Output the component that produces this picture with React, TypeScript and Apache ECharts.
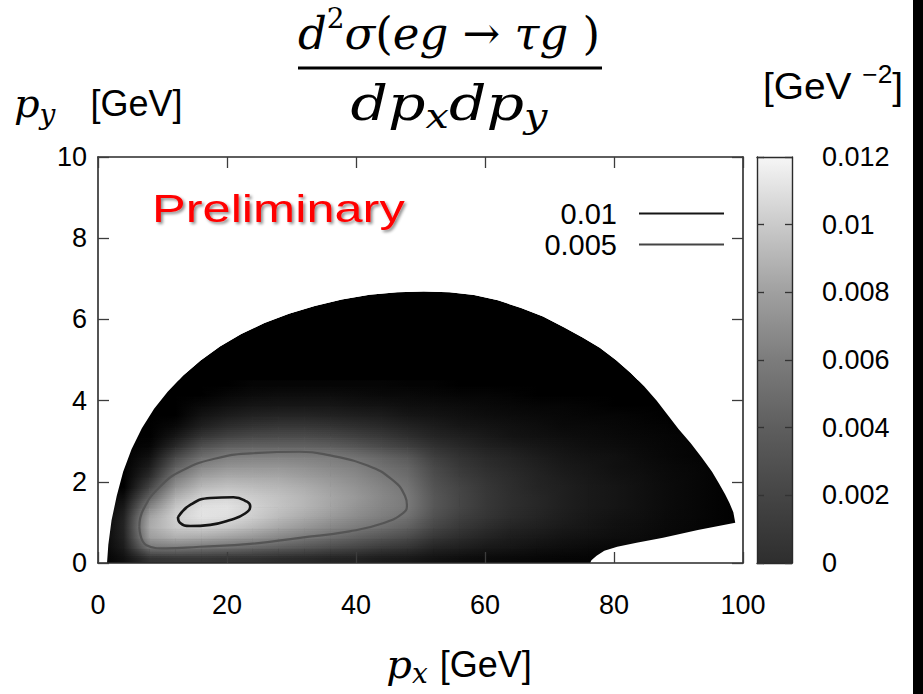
import React, { useEffect, useRef } from "react";
import * as echarts from "echarts";

// ---------- data ----------
// p_x sample nodes [GeV]
const pxNodes = [0, 4, 8, 12, 16, 20, 24, 28, 32, 36, 40, 44, 48, 52, 56, 60, 64, 68, 72, 76, 80, 84, 88, 92, 96, 100];
// p_y level of each sampled row [GeV]
const pyRowLevels = [0.125, 0.375, 0.625, 0.875, 1.125, 1.375, 1.625, 1.875, 2.125, 2.375, 2.625, 2.875, 3.125, 3.375, 3.625, 3.875, 4.125, 4.375];
const pyRowsTop = 4.5;
// d²σ/dpx dpy in units of 1e-3 GeV^-2: one row per p_y level, one value per p_x node
const densityRows: number[][] = [
  [0, 0.4, 1.7, 1.8, 1.8, 1.7, 1.6, 1.4, 1.3, 1.1, 1.0, 0.8, 0.7, 0.45, 0.35, 0.25, 0.2, 0.15, 0.1, 0.08, 0.08, 0.04, 0.03, 0, 0, 0],
  [0, 0.8, 4.8, 5.0, 4.7, 4.4, 4.0, 3.6, 3.2, 2.8, 2.4, 2.0, 1.7, 1.1, 0.9, 0.65, 0.55, 0.4, 0.3, 0.23, 0.16, 0.16, 0.07, 0.07, 0, 0],
  [0, 1.0, 6.8, 7.8, 7.6, 7.0, 6.4, 5.6, 4.9, 4.3, 3.7, 3.2, 2.7, 1.8, 1.4, 1.05, 0.8, 0.65, 0.5, 0.4, 0.3, 0.24, 0.14, 0.08, 0.03, 0],
  [0, 1.1, 7.6, 9.4, 9.8, 9.3, 8.4, 7.4, 6.5, 5.7, 5.0, 4.4, 3.7, 2.5, 1.9, 1.45, 1.1, 0.9, 0.7, 0.55, 0.4, 0.32, 0.2, 0.11, 0.05, 0],
  [0, 1.0, 7.2, 9.8, 10.9, 10.6, 9.6, 8.5, 7.6, 6.7, 5.9, 5.2, 4.5, 3.0, 2.25, 1.75, 1.35, 1.1, 0.85, 0.62, 0.47, 0.36, 0.21, 0.15, 0.05, 0],
  [0, 0.7, 5.6, 9.2, 10.8, 10.9, 9.9, 9.0, 8.2, 7.3, 6.4, 5.6, 4.95, 3.3, 2.5, 1.9, 1.5, 1.2, 0.9, 0.7, 0.55, 0.4, 0.25, 0.15, 0.05, 0],
  [0, 0.3, 3.8, 7.9, 9.8, 10.0, 9.5, 8.9, 8.2, 7.4, 6.6, 5.7, 4.95, 3.3, 2.5, 1.9, 1.5, 1.2, 0.9, 0.7, 0.55, 0.4, 0.25, 0.15, 0.05, 0],
  [0, 0, 2.4, 6.3, 8.4, 8.9, 8.6, 8.3, 7.7, 7.0, 6.3, 5.5, 4.7, 3.1, 2.4, 1.85, 1.45, 1.1, 0.9, 0.7, 0.55, 0.4, 0.25, 0.15, 0.05, 0],
  [0, 0, 1.4, 4.9, 7.0, 7.6, 7.5, 7.4, 6.9, 6.4, 5.8, 5.0, 4.3, 2.85, 2.15, 1.7, 1.35, 1.05, 0.8, 0.62, 0.47, 0.36, 0.21, 0.15, 0.05, 0],
  [0, 0, 0.8, 3.6, 5.6, 6.3, 6.4, 6.4, 6.1, 5.7, 5.3, 4.5, 3.9, 2.6, 1.9, 1.5, 1.2, 0.95, 0.7, 0.55, 0.4, 0.32, 0.2, 0.11, 0.05, 0],
  [0, 0, 0.4, 2.5, 4.3, 5.1, 5.3, 5.3, 5.2, 5.0, 4.5, 3.9, 3.3, 2.15, 1.65, 1.3, 1.05, 0.8, 0.6, 0.47, 0.39, 0.24, 0.14, 0.07, 0.03, 0],
  [0, 0, 0.1, 1.3, 2.9, 3.6, 3.8, 3.8, 3.8, 3.6, 3.2, 2.7, 2.2, 1.6, 1.25, 0.95, 0.75, 0.6, 0.45, 0.35, 0.28, 0.2, 0.12, 0.06, 0.02, 0],
  [0, 0, 0, 0.6, 1.7, 2.3, 2.6, 2.7, 2.7, 2.5, 2.2, 1.9, 1.5, 1.1, 0.9, 0.7, 0.5, 0.4, 0.3, 0.25, 0.2, 0.15, 0.1, 0.05, 0, 0],
  [0, 0, 0, 0.2, 0.9, 1.4, 1.7, 1.8, 1.8, 1.7, 1.5, 1.3, 1.0, 0.8, 0.6, 0.5, 0.4, 0.3, 0.2, 0.2, 0.15, 0.1, 0.05, 0, 0, 0],
  [0, 0, 0, 0, 0.5, 0.8, 1.0, 1.1, 1.1, 1.0, 0.9, 0.8, 0.6, 0.5, 0.4, 0.3, 0.25, 0.2, 0.15, 0.1, 0.1, 0.05, 0, 0, 0, 0],
  [0, 0, 0, 0, 0.2, 0.4, 0.55, 0.6, 0.6, 0.6, 0.5, 0.45, 0.35, 0.3, 0.25, 0.2, 0.15, 0.1, 0.1, 0.05, 0, 0, 0, 0, 0, 0],
  [0, 0, 0, 0, 0, 0.15, 0.25, 0.3, 0.3, 0.3, 0.25, 0.2, 0.2, 0.15, 0.1, 0.1, 0.05, 0, 0, 0, 0, 0, 0, 0, 0, 0],
  [0, 0, 0, 0, 0, 0, 0.1, 0.1, 0.1, 0.1, 0.1, 0.1, 0.05, 0.05, 0, 0, 0, 0, 0, 0, 0, 0, 0, 0, 0, 0],
];

// kinematic boundary: outer arc from bottom-left to the right end, then the lower-right notch
const boundaryArc: number[][] = [
  [1.4, 0], [1.6, 0.45], [2.1, 1.05], [2.9, 1.65], [3.9, 2.25], [5.2, 2.8], [6.8, 3.32], [8.7, 3.8],
  [10.8, 4.22], [13.2, 4.62], [15.9, 4.99], [18.9, 5.33], [22.2, 5.64], [25.8, 5.91], [29.6, 6.14], [33.6, 6.33],
  [37.8, 6.49], [42.1, 6.61], [46.4, 6.67], [50.5, 6.69], [54.5, 6.67], [58.3, 6.6], [62, 6.47], [65.6, 6.28],
  [69, 6.07], [72.3, 5.8], [75.2, 5.55], [77.8, 5.3], [80.3, 5.0], [82.6, 4.68], [84.7, 4.35], [86.6, 4.0],
  [88.3, 3.65], [90.0, 3.3], [91.9, 2.95], [93.6, 2.6], [95.2, 2.25], [96.3, 1.95], [97.2, 1.7], [97.9, 1.48],
  [98.5, 1.25], [98.8, 0.99],
];
const boundaryNotch: number[][] = [
  [93, 0.81], [87.6, 0.62], [83.5, 0.5], [80.5, 0.4], [78.5, 0.3], [77.3, 0.18], [76.5, 0.07], [76.3, 0],
];

// contour lines
const contour0010: number[][] = [
  [12.4, 1.13], [12.7, 0.99], [14.3, 0.91], [17.4, 0.94], [20.5, 1.06], [22.8, 1.22], [23.6, 1.4],
  [23.1, 1.51], [21.0, 1.62], [17.4, 1.6], [14.3, 1.43], [12.4, 1.13],
];
const contour0005: number[][] = [
  [6.4, 0.89], [7.0, 1.31], [9.6, 1.88], [13.2, 2.29], [18.4, 2.58], [23.6, 2.7], [31.3, 2.74], [36, 2.65],
  [41.7, 2.41], [45.7, 2.04], [47.6, 1.65], [47.9, 1.42], [47.3, 1.23], [44.2, 0.98], [39, 0.78], [31.3, 0.62],
  [23.6, 0.47], [15.8, 0.4], [10.6, 0.36], [7.5, 0.44], [6.4, 0.89],
];
const contourNames = ["0.01", "0.005"];

// axes
const pxTicks = [0, 20, 40, 60, 80, 100];
const pyTicks = [0, 2, 4, 6, 8, 10];
const colorTicks = [0, 0.002, 0.004, 0.006, 0.008, 0.01, 0.012];
const densityMaxMilli = 12;

// ---------- styling helpers ----------
const grayOf = (v: number) => {
  const g = Math.round(245 * Math.pow(Math.max(0, v) / densityMaxMilli, 0.8));
  return `rgb(${g},${g},${g})`;
};
const colorbarStops = [
  { offset: 0, color: "#2e2e2e" },
  { offset: 0.167, color: "#454545" },
  { offset: 0.333, color: "#5e5e5e" },
  { offset: 0.5, color: "#7c7c7c" },
  { offset: 0.667, color: "#a0a0a0" },
  { offset: 0.833, color: "#cacaca" },
  { offset: 1, color: "#f6f6f6" },
];
const BLEND_STEPS = 5;

const SANS = "Liberation Sans";
const SERIF = "DejaVu Serif";
const FRAME = "#2a2a2a";
const TICK = "#3c3c3c";

function buildOption() {
  // strips between consecutive sampled rows (plus half strips at the bottom and top)
  const stripData: number[][] = [];
  const nRows = densityRows.length;
  for (let s = 0; s <= nRows; s++) {
    const lo = Math.max(0, s - 1);
    const hi = Math.min(nRows - 1, s);
    const yLo = s === 0 ? 0 : pyRowLevels[s - 1];
    const yHi = s === nRows ? pyRowsTop : pyRowLevels[s];
    for (let i = 0; i < pxNodes.length - 1; i++) {
      stripData.push([
        pxNodes[i], pxNodes[i + 1], yLo, yHi,
        densityRows[lo][i], densityRows[lo][i + 1], densityRows[hi][i], densityRows[hi][i + 1],
      ]);
    }
  }
  const xMin = pxTicks[0], xMax = pxTicks[pxTicks.length - 1];
  const yMin = pyTicks[0], yMax = pyTicks[pyTicks.length - 1];
  const domainPoly = [...boundaryArc, ...boundaryNotch];
  const maskPoly = [[xMin, yMin], ...boundaryArc, ...boundaryNotch, [xMax, yMin], [xMax, yMax], [xMin, yMax]];

  const mainAxisCommon = {
    type: "value" as const,
    z: 10,
    splitLine: { show: false },
    axisLine: { show: true, onZero: false, lineStyle: { color: FRAME, width: 1.6 } },
    axisTick: { show: true, inside: true, length: 11, lineStyle: { color: TICK, width: 1.3 } },
  };
  const labelStyle = { fontSize: 27, color: "#000", fontFamily: SANS };

  const polySeries = (pts: number[][], fill: string, z: number) => ({
    type: "custom" as const,
    xAxisIndex: 0,
    yAxisIndex: 0,
    z,
    silent: true,
    clip: false,
    data: [[pts[0][0], pts[0][1]]],
    renderItem: (_p: any, api: any) => ({
      type: "polygon",
      shape: { points: pts.map((p) => api.coord(p)) },
      style: { fill },
    }),
  });

  const hGrad = (a: number, b: number) =>
    new echarts.graphic.LinearGradient(0, 0, 1, 0, [
      { offset: 0, color: grayOf(a) },
      { offset: 1, color: grayOf(b) },
    ]);

  return {
    animation: false,
    backgroundColor: "#fff",
    textStyle: { fontFamily: SANS },
    grid: [
      { left: 98, top: 157, width: 645, height: 406, containLabel: false, outerBoundsMode: "none" },
      { left: 757, top: 157, width: 35, height: 406, containLabel: false, outerBoundsMode: "none" },
    ],
    xAxis: [
      {
        ...mainAxisCommon, gridIndex: 0, position: "bottom", min: xMin, max: xMax, interval: pxTicks[1] - pxTicks[0],
        axisLabel: { ...labelStyle, margin: 28 },
      },
      {
        ...mainAxisCommon, gridIndex: 0, position: "top", min: xMin, max: xMax, interval: pxTicks[1] - pxTicks[0],
        axisLabel: { show: false },
      },
      {
        type: "value", gridIndex: 1, position: "bottom", min: 0, max: 1, z: 10,
        splitLine: { show: false }, axisTick: { show: false }, axisLabel: { show: false },
        axisLine: { show: true, onZero: false, lineStyle: { color: FRAME, width: 1.4 } },
      },
      {
        type: "value", gridIndex: 1, position: "top", min: 0, max: 1, z: 10,
        splitLine: { show: false }, axisTick: { show: false }, axisLabel: { show: false },
        axisLine: { show: true, onZero: false, lineStyle: { color: FRAME, width: 1.4 } },
      },
    ],
    yAxis: [
      {
        ...mainAxisCommon, gridIndex: 0, position: "left", min: yMin, max: yMax, interval: pyTicks[1] - pyTicks[0],
        axisLabel: { ...labelStyle, margin: 11 },
      },
      {
        ...mainAxisCommon, gridIndex: 0, position: "right", min: yMin, max: yMax, interval: pyTicks[1] - pyTicks[0],
        axisLabel: { show: false },
      },
      {
        type: "value", gridIndex: 1, position: "left", z: 10,
        min: colorTicks[0], max: colorTicks[colorTicks.length - 1], interval: colorTicks[1] - colorTicks[0],
        splitLine: { show: false }, axisLabel: { show: false },
        axisLine: { show: true, onZero: false, lineStyle: { color: FRAME, width: 1.4 } },
        axisTick: { show: true, inside: true, length: 7, lineStyle: { color: "#333", width: 1.3 } },
      },
      {
        type: "value", gridIndex: 1, position: "right", z: 10,
        min: colorTicks[0], max: colorTicks[colorTicks.length - 1], interval: colorTicks[1] - colorTicks[0],
        splitLine: { show: false },
        axisLabel: { ...labelStyle, margin: 30 },
        axisLine: { show: true, onZero: false, lineStyle: { color: FRAME, width: 1.4 } },
        axisTick: { show: true, inside: true, length: 7, lineStyle: { color: "#333", width: 1.3 } },
      },
    ],
    legend: {
      data: contourNames,
      orient: "vertical",
      align: "right",
      right: 199,
      top: 199,
      padding: 0,
      icon: "rect",
      itemWidth: 85,
      itemHeight: 2,
      itemGap: 2,
      selectedMode: false,
      textStyle: { fontSize: 29, lineHeight: 29, color: "#000", fontFamily: SANS, padding: [0, 17, 0, 0] },
    },
    series: [
      polySeries(domainPoly, "#000", 1),
      {
        type: "custom",
        xAxisIndex: 0,
        yAxisIndex: 0,
        z: 2,
        silent: true,
        clip: true,
        dimensions: ["x0", "x1", "y0", "y1", "loL", "loR", "hiL", "hiR"],
        encode: { x: [0, 1], y: [2, 3] },
        data: stripData,
        renderItem: (_p: any, api: any) => {
          const tl = api.coord([api.value(0), api.value(3)]);
          const br = api.coord([api.value(1), api.value(2)]);
          const w = br[0] - tl[0];
          const h = br[1] - tl[1];
          const loL = api.value(4), loR = api.value(5), hiL = api.value(6), hiR = api.value(7);
          const children: any[] = [
            { type: "rect", shape: { x: tl[0], y: tl[1], width: w + 0.6, height: h + 0.6 }, style: { fill: hGrad(loL, loR) } },
          ];
          if (hiL !== loL || hiR !== loR) {
            for (let j = 0; j < BLEND_STEPS; j++) {
              const top = br[1] - (h * (j + 1)) / BLEND_STEPS;
              children.push({
                type: "rect",
                shape: { x: tl[0], y: top, width: w + 0.6, height: h / BLEND_STEPS },
                style: { fill: hGrad(hiL, hiR), opacity: (j + 0.5) / BLEND_STEPS },
              });
            }
          }
          return { type: "group", children };
        },
      },
      polySeries(maskPoly, "#fff", 3),
      {
        name: contourNames[0],
        type: "line",
        xAxisIndex: 0,
        yAxisIndex: 0,
        z: 5,
        smooth: 0.5,
        symbol: "none",
        data: contour0010,
        itemStyle: { color: "#151515" },
        lineStyle: { color: "#151515", width: 2.6 },
      },
      {
        name: contourNames[1],
        type: "line",
        xAxisIndex: 0,
        yAxisIndex: 0,
        z: 4,
        smooth: 0.5,
        symbol: "none",
        data: contour0005,
        itemStyle: { color: "#444" },
        lineStyle: { color: "#555", width: 2.2 },
      },
      {
        type: "custom",
        xAxisIndex: 2,
        yAxisIndex: 2,
        z: 2,
        silent: true,
        clip: false,
        data: [[0, 1, colorTicks[0], colorTicks[colorTicks.length - 1]]],
        encode: { x: [0, 1], y: [2, 3] },
        renderItem: (_p: any, api: any) => {
          const a = api.coord([api.value(0), api.value(3)]);
          const b = api.coord([api.value(1), api.value(2)]);
          return {
            type: "rect",
            shape: { x: a[0], y: a[1], width: b[0] - a[0], height: b[1] - a[1] },
            style: { fill: new echarts.graphic.LinearGradient(0, 1, 0, 0, colorbarStops) },
          };
        },
      },
    ],
    graphic: [
      {
        type: "text",
        x: 449,
        y: 33,
        style: {
          text: "{i|d}{s|2}{i|σ}{u|(}{i|eg}{u| → }{i|τg}{u| )}",
          align: "center",
          verticalAlign: "middle",
          fill: "#000",
          rich: {
            i: { fontFamily: SERIF, fontStyle: "italic", fontSize: 45, lineHeight: 58, verticalAlign: "middle", fill: "#000" },
            u: { fontFamily: SERIF, fontSize: 45, lineHeight: 58, verticalAlign: "middle", fill: "#000" },
            s: { fontFamily: SERIF, fontSize: 28, lineHeight: 28, verticalAlign: "top", fill: "#000" },
          },
        },
      },
      { type: "line", shape: { x1: 298, y1: 68, x2: 602, y2: 68 }, style: { stroke: "#000", lineWidth: 3 } },
      {
        type: "text",
        x: 449,
        y: 103,
        scaleX: 1.22,
        style: {
          text: "{i|dp}{b|x}{i|dp}{b|y}",
          align: "center",
          verticalAlign: "middle",
          rich: {
            i: { fontFamily: SERIF, fontStyle: "italic", fontSize: 48, lineHeight: 60, verticalAlign: "middle", fill: "#000" },
            b: { fontFamily: SERIF, fontStyle: "italic", fontSize: 34, lineHeight: 28, verticalAlign: "bottom", fill: "#000" },
          },
        },
      },
      {
        type: "text",
        x: 14,
        y: 103,
        style: {
          text: "{i|p}{b|y}{t|[GeV]}",
          align: "left",
          verticalAlign: "middle",
          rich: {
            i: { fontFamily: SERIF, fontStyle: "italic", fontSize: 40, lineHeight: 50, verticalAlign: "middle", fill: "#000" },
            b: { fontFamily: SERIF, fontStyle: "italic", fontSize: 28, lineHeight: 24, verticalAlign: "bottom", fill: "#000" },
            t: { fontFamily: SANS, fontSize: 36, lineHeight: 50, verticalAlign: "middle", fill: "#000", padding: [0, 0, 0, 35] },
          },
        },
      },
      {
        type: "text",
        x: 763,
        y: 86,
        scaleX: 1.05,
        style: {
          text: "{t|[GeV }{s|−2}{t|]}",
          align: "left",
          verticalAlign: "middle",
          rich: {
            t: { fontFamily: SANS, fontSize: 37, lineHeight: 48, verticalAlign: "middle", fill: "#000" },
            s: { fontFamily: SANS, fontSize: 25, lineHeight: 24, verticalAlign: "top", fill: "#000" },
          },
        },
      },
      {
        type: "text",
        x: 459,
        y: 664,
        style: {
          text: "{i|p}{b|x}{t|[GeV]}",
          align: "center",
          verticalAlign: "middle",
          rich: {
            i: { fontFamily: SERIF, fontStyle: "italic", fontSize: 40, lineHeight: 46, verticalAlign: "middle", fill: "#000" },
            b: { fontFamily: SERIF, fontStyle: "italic", fontSize: 28, lineHeight: 20, verticalAlign: "bottom", fill: "#000" },
            t: { fontFamily: SANS, fontSize: 36, lineHeight: 46, verticalAlign: "middle", fill: "#000", padding: [0, 0, 0, 12] },
          },
        },
      },
      {
        type: "text",
        x: 152,
        y: 209,
        scaleX: 1.33,
        z: 100,
        style: {
          text: "Preliminary",
          fill: "#ff0000",
          fontSize: 38,
          fontFamily: SANS,
          align: "left",
          verticalAlign: "middle",
          textShadowColor: "rgba(0,0,0,0.45)",
          textShadowBlur: 3,
          textShadowOffsetX: 2,
          textShadowOffsetY: 2,
        },
      },
      { type: "rect", shape: { x: 913, y: 0, width: 10, height: 694 }, style: { fill: "#000" } },
    ],
  };
}

export default function App() {
  const ref = useRef<HTMLDivElement>(null);
  useEffect(() => {
    if (!ref.current) return;
    const chart = echarts.init(ref.current, null, { renderer: "svg", width: 923, height: 694 });
    chart.setOption(buildOption() as any);
    return () => chart.dispose();
  }, []);
  return (
    <div
      ref={ref}
      style={{ position: "fixed", left: 0, top: 0, width: 923, height: 694, background: "#fff" }}
    />
  );
}
